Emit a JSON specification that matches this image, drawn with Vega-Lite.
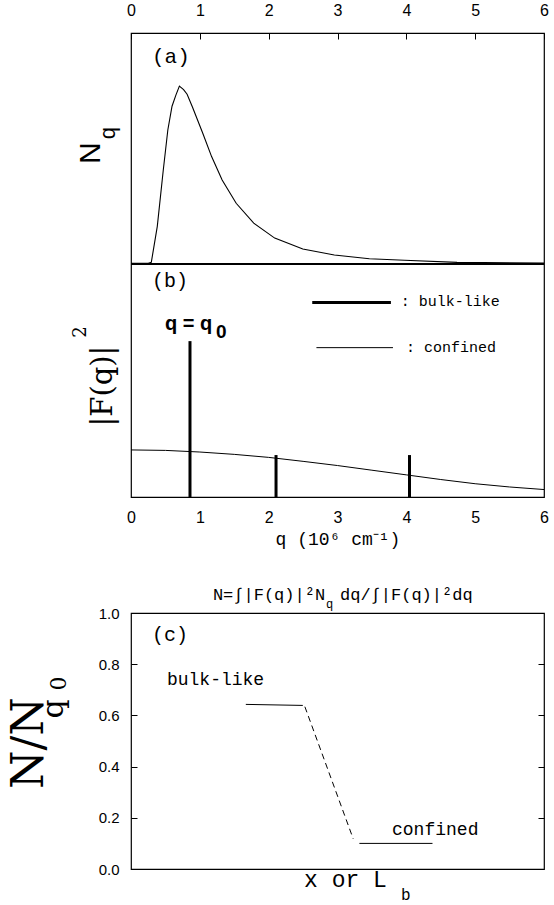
{
 "$schema": "https://vega.github.io/schema/vega-lite/v6.json",
 "background": "white",
 "padding": {"left": 7, "top": 1, "right": 0, "bottom": 0},
 "bounds": "flush",
 "spacing": 116,
 "config": {
  "view": {"stroke": "black", "strokeWidth": 1.2},
  "axis": {"domain": false, "grid": false, "tickColor": "black", "labelColor": "black", "titleColor": "black", "labelFont": "Liberation Sans", "tickWidth": 1},
  "line": {"color": "black"},
  "rule": {"color": "black"},
  "text": {"color": "black"}
 },
 "datasets": {
  "nq": [
   {"q": 0, "n": 0.003}, {"q": 0.25, "n": 0.003}, {"q": 0.295, "n": 0.007}, {"q": 0.382, "n": 0.163},
   {"q": 0.469, "n": 0.407}, {"q": 0.535, "n": 0.58}, {"q": 0.596, "n": 0.683}, {"q": 0.652, "n": 0.731},
   {"q": 0.703, "n": 0.77}, {"q": 0.764, "n": 0.755}, {"q": 0.815, "n": 0.735}, {"q": 0.891, "n": 0.681},
   {"q": 1.044, "n": 0.565}, {"q": 1.171, "n": 0.465}, {"q": 1.324, "n": 0.364}, {"q": 1.528, "n": 0.263},
   {"q": 1.783, "n": 0.177}, {"q": 2.088, "n": 0.112}, {"q": 2.496, "n": 0.065}, {"q": 2.954, "n": 0.039},
   {"q": 3.463, "n": 0.023}, {"q": 3.973, "n": 0.016}, {"q": 4.737, "n": 0.007}, {"q": 6, "n": 0.004}
  ],
  "fq": [
   {"q": 0, "f": 0.202}, {"q": 0.5, "f": 0.2}, {"q": 1, "f": 0.193}, {"q": 1.5, "f": 0.183},
   {"q": 2, "f": 0.17}, {"q": 2.5, "f": 0.153}, {"q": 3, "f": 0.135}, {"q": 3.5, "f": 0.115},
   {"q": 4, "f": 0.095}, {"q": 4.5, "f": 0.075}, {"q": 5, "f": 0.057}, {"q": 5.5, "f": 0.043}, {"q": 6, "f": 0.032}
  ],
  "bars": [{"q": 0.857, "top": 0.669}, {"q": 2.107, "top": 0.18}, {"q": 4.046, "top": 0.18}],
  "nc": [
   {"x": 0.278, "y": 0.643, "seg": "bulk"}, {"x": 0.416, "y": 0.639, "seg": "bulk"},
   {"x": 0.421, "y": 0.634, "seg": "trans"}, {"x": 0.538, "y": 0.118, "seg": "trans"},
   {"x": 0.553, "y": 0.1, "seg": "conf"}, {"x": 0.73, "y": 0.1, "seg": "conf"}
  ]
 },
 "vconcat": [
  {
   "width": 413,
   "height": 464,
   "resolve": {"scale": {"x": "independent", "y": "independent"}},
   "layer": [
    {
     "layer": [
      {
       "data": {"name": "nq"},
       "mark": {"type": "line", "strokeWidth": 1.1},
       "encoding": {
        "x": {"field": "q", "type": "quantitative", "scale": {"domain": [0, 6], "nice": false, "zero": false},
              "axis": {"orient": "top", "values": [0, 1, 2, 3, 4, 5, 6], "format": "d", "tickSize": -6, "labelPadding": 21, "labelFontSize": 16, "title": null, "labelFlush": false}},
        "y": {"field": "n", "type": "quantitative", "scale": {"domain": [-1.0087, 1], "nice": false, "zero": false}, "axis": null}
       }
      },
      {"data": {"values": [{}]}, "mark": {"type": "rule", "strokeWidth": 2}, "encoding": {"y": {"datum": 0}}},
      {"data": {"values": [{}]}, "mark": {"type": "text", "font": "Liberation Mono", "fontSize": 21, "align": "left", "baseline": "alphabetic"},
       "encoding": {"x": {"datum": 0.305}, "y": {"datum": 0.87}, "text": {"value": "(a)"}}},
      {"data": {"values": [{}]}, "mark": {"type": "text", "font": "Liberation Sans", "fontSize": 30, "angle": 270, "align": "center", "baseline": "middle"},
       "encoding": {"x": {"datum": -0.587}, "y": {"datum": 0.48}, "text": {"value": "N"}}},
      {"data": {"values": [{}]}, "mark": {"type": "text", "font": "Liberation Sans", "fontSize": 22, "angle": 270, "align": "center", "baseline": "middle"},
       "encoding": {"x": {"datum": -0.334}, "y": {"datum": 0.567}, "text": {"value": "q"}}}
     ]
    },
    {
     "layer": [
      {
       "data": {"name": "fq"},
       "mark": {"type": "line", "strokeWidth": 1},
       "encoding": {
        "x": {"field": "q", "type": "quantitative", "scale": {"domain": [0, 6], "nice": false, "zero": false},
              "axis": {"orient": "bottom", "values": [0, 1, 2, 3, 4, 5, 6], "format": "d", "ticks": false, "labelPadding": 12, "labelFontSize": 16, "labelFlush": false,
                       "title": "q (10⁶ cm⁻¹)", "titleFont": "Liberation Mono", "titleFontSize": 18, "titleFontWeight": "normal", "titlePadding": 5}},
        "y": {"field": "f", "type": "quantitative", "scale": {"domain": [0, 1.9914], "nice": false, "zero": false}, "axis": null}
       }
      },
      {
       "data": {"name": "bars"},
       "mark": {"type": "rule", "strokeWidth": 3},
       "encoding": {
        "x": {"field": "q", "type": "quantitative"},
        "y": {"field": "top", "type": "quantitative"},
        "y2": {"datum": 0}
       }
      },
      {"data": {"values": [{}]}, "mark": {"type": "rule", "strokeWidth": 3},
       "encoding": {"x": {"datum": 2.633}, "x2": {"datum": 3.776}, "y": {"datum": 0.835}}},
      {"data": {"values": [{}]}, "mark": {"type": "rule", "strokeWidth": 1},
       "encoding": {"x": {"datum": 2.694}, "x2": {"datum": 3.806}, "y": {"datum": 0.641}}},
      {"data": {"values": [{}]}, "mark": {"type": "text", "font": "Liberation Mono", "fontSize": 15, "align": "left", "baseline": "alphabetic"},
       "encoding": {"x": {"datum": 3.918}, "y": {"datum": 0.818}, "text": {"value": ": bulk-like"}}},
      {"data": {"values": [{}]}, "mark": {"type": "text", "font": "Liberation Mono", "fontSize": 15, "align": "left", "baseline": "alphabetic"},
       "encoding": {"x": {"datum": 3.995}, "y": {"datum": 0.622}, "text": {"value": ": confined"}}},
      {"data": {"values": [{}]}, "mark": {"type": "text", "font": "Liberation Mono", "fontSize": 20, "align": "left", "baseline": "alphabetic"},
       "encoding": {"x": {"datum": 0.305}, "y": {"datum": 0.901}, "text": {"value": "(b)"}}},
      {"data": {"values": [{}]}, "mark": {"type": "text", "font": "Liberation Sans", "fontSize": 20, "fontWeight": "bold", "align": "left", "baseline": "alphabetic"},
       "encoding": {"x": {"datum": 0.494}, "y": {"datum": 0.717}, "text": {"value": "q = q"}}},
      {"data": {"values": [{}]}, "mark": {"type": "text", "font": "Liberation Sans", "fontSize": 19, "fontWeight": "bold", "align": "left", "baseline": "alphabetic"},
       "encoding": {"x": {"datum": 1.235}, "y": {"datum": 0.682}, "text": {"value": "0"}}},
      {"data": {"values": [{}]}, "mark": {"type": "text", "font": "DejaVu Serif", "fontSize": 29, "angle": 270, "align": "center", "baseline": "middle"},
       "encoding": {"x": {"datum": -0.407}, "y": {"datum": 0.476}, "text": {"value": "|F(q)|"}}},
      {"data": {"values": [{}]}, "mark": {"type": "text", "font": "DejaVu Serif", "fontSize": 18, "angle": 270, "align": "center", "baseline": "middle"},
       "encoding": {"x": {"datum": -0.726}, "y": {"datum": 0.708}, "text": {"value": "2"}}}
     ]
    }
   ]
  },
  {
   "width": 413,
   "height": 256,
   "resolve": {"scale": {"y": "independent"}},
   "layer": [
    {
     "layer": [
      {
       "data": {"name": "nc"},
       "transform": [{"filter": "datum.seg == 'bulk'"}],
       "mark": {"type": "line", "strokeWidth": 1},
       "encoding": {
        "x": {"field": "x", "type": "quantitative", "scale": {"domain": [0, 1], "nice": false, "zero": false}, "axis": null},
        "y": {"field": "y", "type": "quantitative", "scale": {"domain": [0, 1], "nice": false, "zero": false},
              "axis": {"orient": "left", "values": [0, 0.2, 0.4, 0.6, 0.8, 1], "format": ".1f", "tickSize": -6, "labelPadding": 18, "labelFontSize": 15, "title": null, "labelFlush": false}}
       }
      },
      {
       "data": {"name": "nc"},
       "transform": [{"filter": "datum.seg == 'trans'"}],
       "mark": {"type": "line", "strokeWidth": 1, "strokeDash": [6, 4]},
       "encoding": {"x": {"field": "x", "type": "quantitative"}, "y": {"field": "y", "type": "quantitative"}}
      },
      {
       "data": {"name": "nc"},
       "transform": [{"filter": "datum.seg == 'conf'"}],
       "mark": {"type": "line", "strokeWidth": 1},
       "encoding": {"x": {"field": "x", "type": "quantitative"}, "y": {"field": "y", "type": "quantitative"}}
      },
      {"data": {"values": [{}]}, "mark": {"type": "text", "font": "Liberation Mono", "fontSize": 20, "align": "left", "baseline": "alphabetic"},
       "encoding": {"x": {"datum": 0.051}, "y": {"datum": 0.891}, "text": {"value": "(c)"}}},
      {"data": {"values": [{}]}, "mark": {"type": "text", "font": "Liberation Mono", "fontSize": 18, "align": "left", "baseline": "alphabetic"},
       "encoding": {"x": {"datum": 0.087}, "y": {"datum": 0.719}, "text": {"value": "bulk-like"}}},
      {"data": {"values": [{}]}, "mark": {"type": "text", "font": "Liberation Mono", "fontSize": 18, "align": "left", "baseline": "alphabetic"},
       "encoding": {"x": {"datum": 0.632}, "y": {"datum": 0.131}, "text": {"value": "confined"}}},
      {"data": {"values": [{}]}, "mark": {"type": "text", "font": "Liberation Mono", "fontSize": 17, "align": "right", "baseline": "alphabetic"},
       "encoding": {"x": {"datum": 0.47}, "y": {"datum": 1.05}, "text": {"value": "N=∫|F(q)|²N"}}},
      {"data": {"values": [{}]}, "mark": {"type": "text", "font": "Liberation Mono", "fontSize": 12, "align": "left", "baseline": "alphabetic"},
       "encoding": {"x": {"datum": 0.472}, "y": {"datum": 1.02}, "text": {"value": "q"}}},
      {"data": {"values": [{}]}, "mark": {"type": "text", "font": "Liberation Mono", "fontSize": 17, "align": "left", "baseline": "alphabetic"},
       "encoding": {"x": {"datum": 0.506}, "y": {"datum": 1.05}, "text": {"value": "dq/∫|F(q)|²dq"}}},
      {"data": {"values": [{}]}, "mark": {"type": "text", "font": "Liberation Mono", "fontSize": 23, "align": "left", "baseline": "alphabetic"},
       "encoding": {"x": {"datum": 0.419}, "y": {"datum": -0.07}, "text": {"value": "x or L"}}},
      {"data": {"values": [{}]}, "mark": {"type": "text", "font": "Liberation Mono", "fontSize": 16, "align": "left", "baseline": "alphabetic"},
       "encoding": {"x": {"datum": 0.654}, "y": {"datum": -0.12}, "text": {"value": "b"}}},
      {"data": {"values": [{}]}, "mark": {"type": "text", "font": "DejaVu Serif", "fontSize": 44, "angle": 270, "align": "center", "baseline": "middle"},
       "encoding": {"x": {"datum": -0.2446}, "y": {"datum": 0.492}, "text": {"value": "N/N"}}},
      {"data": {"values": [{}]}, "mark": {"type": "text", "font": "DejaVu Serif", "fontSize": 30, "angle": 270, "align": "center", "baseline": "middle"},
       "encoding": {"x": {"datum": -0.186}, "y": {"datum": 0.625}, "text": {"value": "q"}}},
      {"data": {"values": [{}]}, "mark": {"type": "text", "font": "DejaVu Serif", "fontSize": 22, "angle": 270, "align": "center", "baseline": "middle"},
       "encoding": {"x": {"datum": -0.174}, "y": {"datum": 0.725}, "text": {"value": "0"}}}
     ]
    },
    {
     "data": {"values": [{}]},
     "mark": {"type": "rule", "strokeOpacity": 0},
     "encoding": {
      "y": {"datum": 0.5, "scale": {"domain": [0, 1], "nice": false, "zero": false},
            "axis": {"orient": "right", "values": [0.2, 0.4, 0.6, 0.8], "labels": false, "tickSize": -6, "title": null}}
     }
    }
   ]
  }
 ]
}
